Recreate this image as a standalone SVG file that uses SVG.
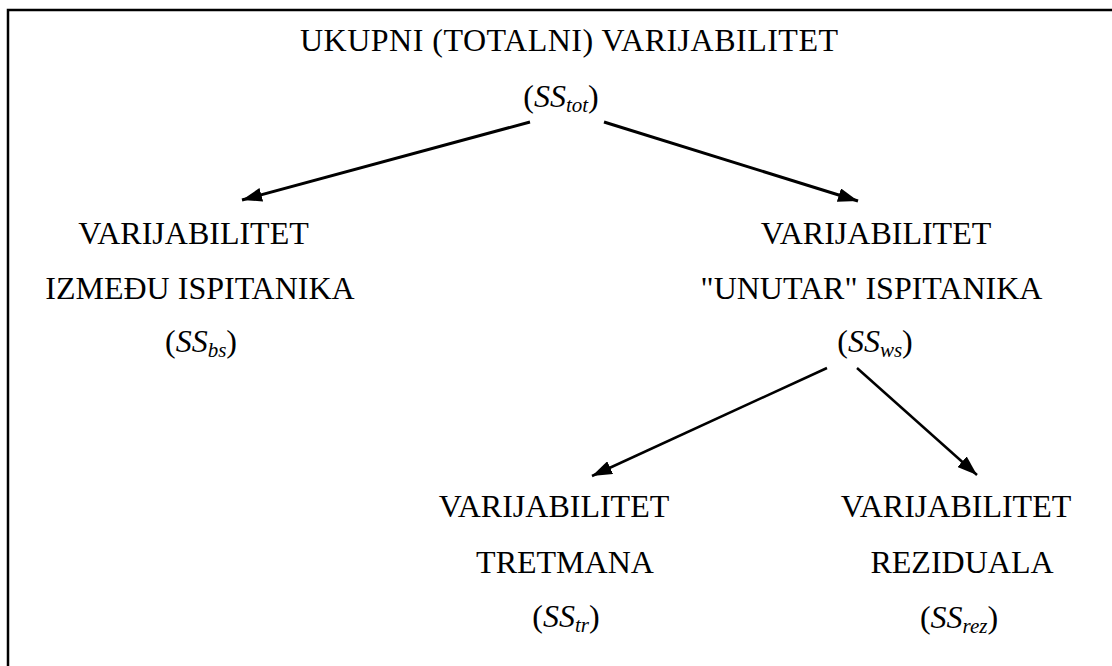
<svg xmlns="http://www.w3.org/2000/svg" width="1112" height="666" viewBox="0 0 1112 666">
<style>
.t{font-family:"Liberation Serif","Times New Roman",serif;font-size:32px;fill:#000;text-anchor:middle}
.i{font-style:italic}
.sub{font-size:21px;font-style:italic}
.c{stroke:#000;stroke-width:2.5;fill:none}
.c2{stroke:#000;stroke-width:3;fill:none}
.frame{stroke:#000;stroke-width:2.5;fill:none}
</style>
<defs>
<marker id="ah" markerUnits="userSpaceOnUse" viewBox="0 0 20 14" refX="20" refY="7" markerWidth="20" markerHeight="14" orient="auto">
<path d="M0,0 L20,7 L0,14 Z" fill="#000"/>
</marker>
</defs>
<rect width="1112" height="666" fill="#fff"/>
<path class="frame" d="M8,666 V10 H1112"/>
<g id="total">
<text class="t" x="569" y="51" textLength="538" lengthAdjust="spacing">UKUPNI (TOTALNI) VARIJABILITET</text>
<text class="t" x="561" y="107">(<tspan class="i">SS</tspan><tspan class="sub" dy="5">tot</tspan><tspan dy="-5">)</tspan></text>
</g>
<g id="between">
<text class="t" x="193.5" y="244">VARIJABILITET</text>
<text class="t" x="200" y="299">IZMEĐU ISPITANIKA</text>
<text class="t" x="201" y="352">(<tspan class="i">SS</tspan><tspan class="sub" dy="5">bs</tspan><tspan dy="-5">)</tspan></text>
</g>
<g id="within">
<text class="t" x="876" y="244">VARIJABILITET</text>
<text class="t" x="871.5" y="299">"UNUTAR" ISPITANIKA</text>
<text class="t" x="875" y="352">(<tspan class="i">SS</tspan><tspan class="sub" dy="5">ws</tspan><tspan dy="-5">)</tspan></text>
</g>
<g id="treatment">
<text class="t" x="554" y="517">VARIJABILITET</text>
<text class="t" x="565" y="573">TRETMANA</text>
<text class="t" x="566" y="627">(<tspan class="i">SS</tspan><tspan class="sub" dy="5">tr</tspan><tspan dy="-5">)</tspan></text>
</g>
<g id="residual">
<text class="t" x="956" y="517">VARIJABILITET</text>
<text class="t" x="962" y="573">REZIDUALA</text>
<text class="t" x="959" y="628">(<tspan class="i">SS</tspan><tspan class="sub" dy="5">rez</tspan><tspan dy="-5">)</tspan></text>
</g>
<g id="connectors">
<line class="c2" x1="530" y1="122" x2="242" y2="200" marker-end="url(#ah)"/>
<line class="c2" x1="604" y1="122" x2="858" y2="201" marker-end="url(#ah)"/>
<line class="c" x1="827" y1="368" x2="592" y2="476" marker-end="url(#ah)"/>
<line class="c" x1="857" y1="368" x2="977" y2="475" marker-end="url(#ah)"/>
</g>
</svg>
